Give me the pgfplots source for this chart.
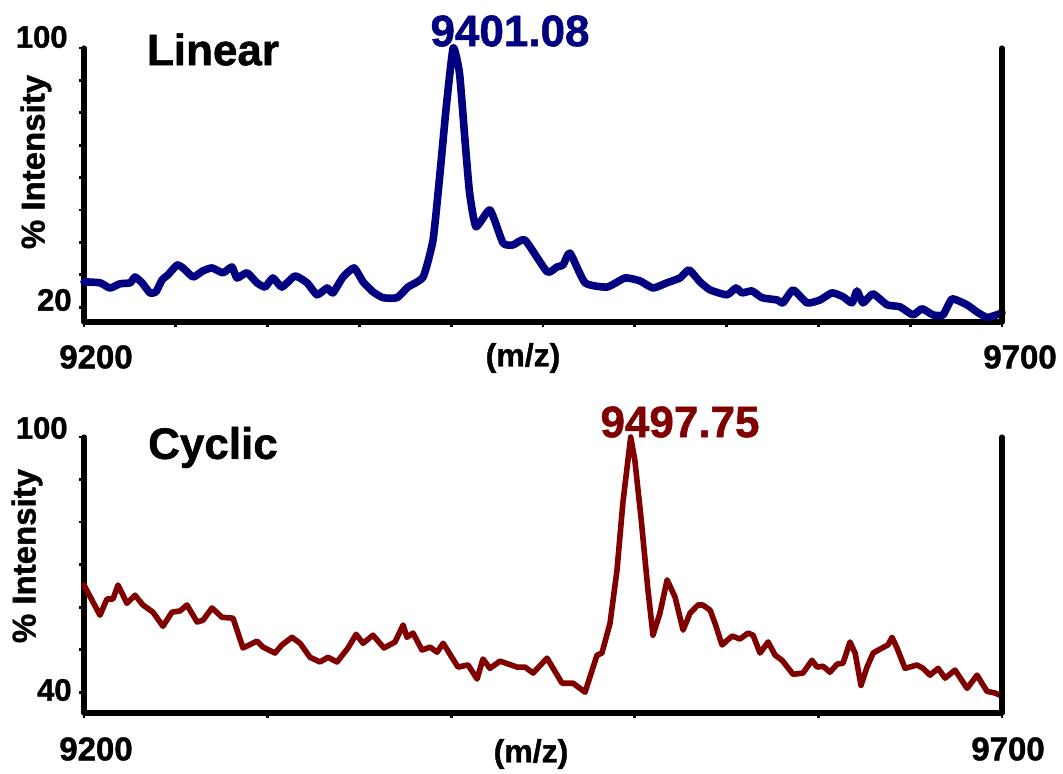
\documentclass[border=0pt]{standalone}
\usepackage{pgfplots}
\pgfplotsset{compat=1.18}
\usepackage{fontspec}
\setmainfont{Liberation Sans}[BoldFeatures={FakeBold=1.2}]
\definecolor{lnavy}{RGB}{0,0,128}
\definecolor{cmaroon}{RGB}{128,0,0}

\pgfplotstableread{
x y
9200 27.8
9208.7 27.5
9214.2 25.9
9219.6 27.2
9225.1 27.5
9227.8 29.3
9231.6 27.5
9235.9 24.4
9239.2 24.7
9242.5 28.4
9245.8 30.0
9250.7 33.0
9253.9 32.1
9259.4 29.3
9264.8 31.2
9269.7 32.1
9275.7 30.6
9280.6 32.4
9283.3 29.0
9288.8 30.6
9294.2 27.5
9298.6 26.2
9302.9 29.0
9307.8 26.2
9314.9 29.6
9321.5 27.5
9326.9 23.8
9332.4 25.9
9335.6 24.4
9341.1 29.3
9347.1 32.1
9352.0 27.8
9357.4 24.7
9362.9 22.9
9370.5 22.9
9376.5 26.2
9384.7 29.3
9390.1 40.7
9393.9 61.4
9397.3 81.8
9401.08 100
9404.5 92.3
9407.5 71.6
9410.0 55.3
9413.5 44.8
9421.1 50.0
9428.2 39.8
9433.7 39.2
9440.2 40.7
9452.2 30.9
9457.6 32.4
9460.9 33.0
9464.7 36.7
9472.9 27.5
9484.9 26.2
9494.7 29.0
9502.8 28.1
9509.9 25.9
9517.5 27.5
9524.6 29.0
9529.5 31.5
9535.5 27.8
9541.0 25.3
9550.2 23.8
9555.1 25.9
9558.4 24.4
9563.8 25.0
9569.3 22.9
9577.5 22.2
9580.7 21.3
9586.2 25.3
9593.8 21.3
9600.9 22.2
9607.4 24.4
9613.4 23.2
9618.3 21.3
9621.0 25.0
9624.3 21.3
9629.7 24.1
9637.4 20.7
9644.4 20.1
9651.5 17.6
9656.4 19.5
9662.4 17.6
9667.9 17.6
9672.8 22.5
9680.9 20.7
9686.4 18.5
9692.0 16.8
9700 18.2
}\linear

\pgfplotstableread{
x y
9200 65.2
9204.4 61.6
9208.7 58.1
9212.5 61.9
9215.8 61.9
9218.5 65.2
9223.4 60.9
9227.8 62.8
9232.1 60.5
9237.6 58.8
9243.0 55.5
9247.9 58.8
9252.3 59.1
9256.1 60.5
9261.6 56.5
9264.8 56.9
9269.7 59.8
9275.2 57.6
9281.2 57.4
9286.6 50.4
9294.2 52.0
9297.5 50.6
9304.0 49.2
9307.8 51.1
9313.3 52.9
9317.7 51.5
9323.1 48.2
9328.5 47.1
9332.9 48.2
9337.8 47.1
9343.8 50.4
9348.2 53.6
9352.0 51.5
9357.4 53.4
9363.4 50.4
9369.4 51.8
9373.8 55.8
9375.9 52.9
9379.2 53.9
9384.1 49.9
9388.5 50.6
9392.3 49.4
9395.6 51.5
9403.7 45.9
9409.2 46.4
9414.1 43.1
9417.3 47.8
9421.1 45.6
9426.6 47.3
9435.9 45.9
9440.2 45.9
9444.6 44.5
9452.2 48.0
9460.4 42.1
9466.4 42.1
9472.9 40.0
9479.4 48.7
9482.1 49.2
9486.5 56.2
9490.3 68.7
9493.5 84.5
9497.75 100
9500.0 94.6
9503.5 80.5
9507.0 64.7
9509.9 53.4
9513.7 58.6
9517.6 66.4
9521.9 62.4
9526.3 54.6
9530.1 58.6
9534.4 60.5
9537.0 60.5
9541.0 59.3
9543.7 56.2
9547.5 51.1
9553.0 53.2
9557.3 52.5
9561.7 53.9
9564.4 53.4
9568.2 49.2
9572.6 51.8
9576.4 48.7
9580.2 47.5
9586.2 44.2
9591.6 44.5
9596.5 47.5
9599.3 45.9
9602.5 46.1
9606.3 44.7
9610.2 46.6
9613.4 46.8
9617.2 51.8
9620.0 49.2
9623.2 41.6
9626.5 45.9
9629.8 49.2
9634.7 50.4
9637.9 51.1
9640.1 52.9
9642.8 50.4
9647.2 45.6
9653.7 46.4
9657.0 45.6
9660.8 44.0
9665.2 45.6
9669.0 43.3
9674.4 45.2
9681.0 40.9
9686.4 44.0
9691.8 40.2
9696.2 39.8
9700 39.1
}\cyclic

\begin{document}
\begin{tikzpicture}[x=1pt,y=1pt]
\useasboundingbox (0pt,0pt) rectangle (531.5pt,386.5pt);
\pgfplotsset{
  spec/.style={
    scale only axis, width=459pt,
    anchor=south west,
    xmin=9200, xmax=9700,
    axis x line*=bottom, axis y line*=left,
    axis line style={line width=2.6pt, black, line cap=round},
    tick align=outside,
    major tick length=2.6pt,
    tick style={line width=1.4pt, black},
    xticklabels={}, yticklabels={},
    clip=false,
  }
}
% top panel
\begin{axis}[spec, at={(42pt,225.5pt)}, height=137pt,
  ymin=15.4, ymax=100,
  xtick={9200,9250,...,9700},
  ytick={20,30,...,100}]
\addplot[lnavy, line width=3.8pt, line join=round, line cap=round, smooth, tension=0.3] table[x=x,y=y] {\linear};
\draw[line width=2.6pt, black, line cap=round] (rel axis cs:1,0) -- (rel axis cs:1,1);
\end{axis}
% bottom panel
\begin{axis}[spec, at={(42pt,30pt)}, height=138pt,
  ymin=35.1, ymax=100,
  xtick={9200,9300,...,9700},
  ytick={40,50,...,100}]
\addplot[cmaroon, line width=2.8pt, line join=round, line cap=round] table[x=x,y=y] {\cyclic};
\draw[line width=2.6pt, black, line cap=round] (rel axis cs:1,0) -- (rel axis cs:1,1);
\end{axis}

% texts top
\node[font=\bfseries\fontsize{22}{22}\selectfont] at (106.5pt,361.75pt) {Linear};
\node[font=\bfseries\fontsize{22}{22}\selectfont, text=lnavy] at (255pt,371pt) {9401.08};
\node[font=\bfseries\fontsize{16}{16}\selectfont] at (261.5pt,207.5pt) {(m/z)};
\node[font=\bfseries\fontsize{16.5}{16.5}\selectfont] at (48pt,208pt) {9200};
\node[font=\bfseries\fontsize{16.5}{16.5}\selectfont] at (510pt,208pt) {9700};
\node[font=\bfseries\fontsize{15.5}{15.5}\selectfont, anchor=east, inner sep=0pt] at (34pt,368pt) {100};
\node[font=\bfseries\fontsize{15.5}{15.5}\selectfont, anchor=east, inner sep=0pt] at (36pt,236.5pt) {20};
\node[font=\bfseries\fontsize{16.5}{16.5}\selectfont, rotate=90] at (18pt,305.5pt) {\% Intensity};
% texts bottom
\node[font=\bfseries\fontsize{22}{22}\selectfont] at (106.5pt,162.75pt) {Cyclic};
\node[font=\bfseries\fontsize{22}{22}\selectfont, text=cmaroon] at (340pt,175.5pt) {9497.75};
\node[font=\bfseries\fontsize{16}{16}\selectfont] at (265.5pt,9.5pt) {(m/z)};
\node[font=\bfseries\fontsize{16.5}{16.5}\selectfont] at (48pt,12pt) {9200};
\node[font=\bfseries\fontsize{16.5}{16.5}\selectfont] at (504pt,12pt) {9700};
\node[font=\bfseries\fontsize{15.5}{15.5}\selectfont, anchor=east, inner sep=0pt] at (34pt,172.5pt) {100};
\node[font=\bfseries\fontsize{15.5}{15.5}\selectfont, anchor=east, inner sep=0pt] at (36pt,41.5pt) {40};
\node[font=\bfseries\fontsize{16.5}{16.5}\selectfont, rotate=90] at (13.5pt,108.5pt) {\% Intensity};
\end{tikzpicture}
\end{document}
